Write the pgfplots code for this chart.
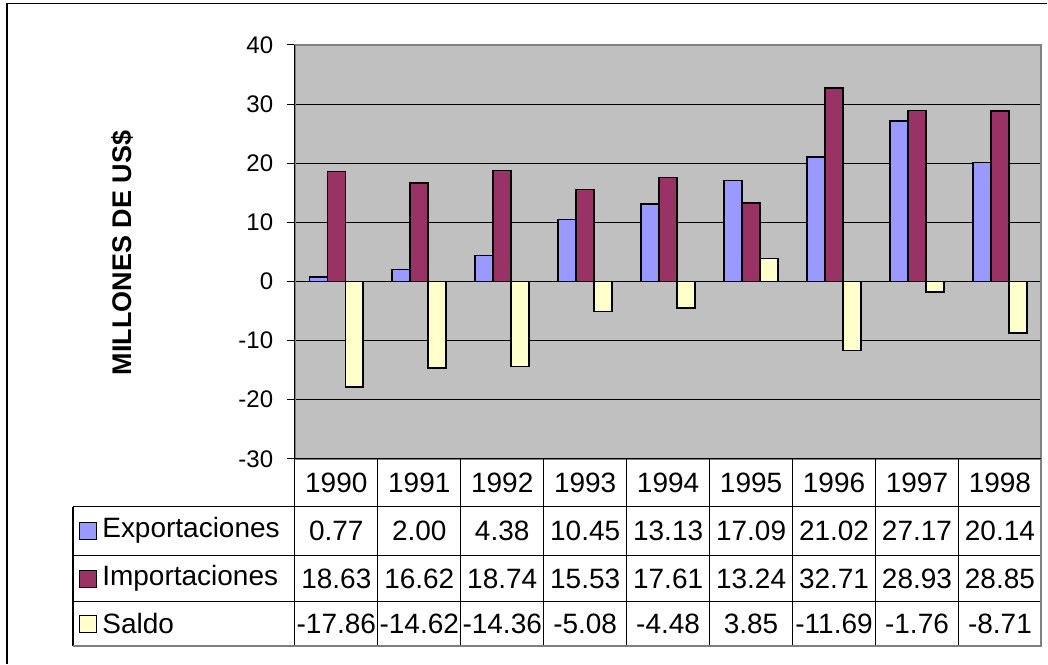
\documentclass[border=0pt]{standalone}
\usepackage{pgfplots}
\usepackage{pgfplotstable}
\pgfplotsset{compat=1.18}
\usepackage{fontspec}
\setmainfont{Liberation Sans}
\definecolor{cexp}{HTML}{9999FF}
\definecolor{cimp}{HTML}{993366}
\definecolor{csal}{HTML}{FFFFCC}
\definecolor{bg}{HTML}{C0C0C0}
\definecolor{bord}{HTML}{808080}

\pgfplotstableread{
x year exp imp sal
0 1990 0.77 18.63 -17.86
1 1991 2.00 16.62 -14.62
2 1992 4.38 18.74 -14.36
3 1993 10.45 15.53 -5.08
4 1994 13.13 17.61 -4.48
5 1995 17.09 13.24 3.85
6 1996 21.02 32.71 -11.69
7 1997 27.17 28.93 -1.76
8 1998 20.14 28.85 -8.71
}\datatable

\begin{document}
\fontsize{14}{16}\selectfont
\begin{tikzpicture}
\begin{scope}[x=0.5pt,y=-0.5pt]
\useasboundingbox (0,0) rectangle (1048,664);
\end{scope}
\begin{axis}[
 at={(147.5pt,-229.5pt)}, anchor=south west,
 scale only axis, width=373.5pt, height=207pt,
 xmin=-0.5, xmax=8.5, ymin=-30, ymax=40,
 ytick={-30,-20,-10,0,10,20,30,40},
 yticklabels={-30,-20,-10,0,10,20,30,40},
 xtick=\empty,
 ybar=0pt, bar width=9pt,
 axis background/.style={fill=bg},
 axis line style={draw=bord, line width=1pt},
 ymajorgrids, grid style={black, line width=0.5pt},
 major tick length=4pt, tick align=outside,
 ytick pos=left,
 y tick style={black, line width=0.5pt},
 yticklabel style={font=\fontsize{12}{14}\selectfont, xshift=-2pt},
 clip=false,
]
\addplot[fill=cexp, draw=black, line width=0.8pt] table[x=x,y=exp]{\datatable};
\addplot[fill=cimp, draw=black, line width=0.8pt] table[x=x,y=imp]{\datatable};
\addplot[fill=csal, draw=black, line width=0.8pt] table[x=x,y=sal]{\datatable};
\draw[black, line width=0.5pt] (rel axis cs:0,0) -- (rel axis cs:0,1);
\end{axis}
\begin{scope}[x=0.5pt,y=-0.5pt]
% outer frame
\draw[black, line width=0.6pt] (7,664) -- (7,3.5) -- (1048,3.5);
% y label
\node[rotate=90, font=\fontsize{13.5}{16}\selectfont\bfseries] at (123,253) {MILLONES DE US\$};
% table grid
\draw[black, line width=0.6pt] (295,459) -- (1042,459);
\foreach \y in {507,556,602} \draw[black, line width=0.6pt] (73,\y) -- (1042,\y);
\draw[black, line width=0.6pt] (73,507) -- (73,646);
\foreach \i in {0,...,8} \draw[black, line width=0.6pt] (295+\i*83,459) -- (295+\i*83,646);
\draw[bord, line width=1pt] (73,646) -- (1042,646) -- (1042,459);
% years and values
\foreach \i in {0,...,8}{
  \pgfplotstablegetelem{\i}{year}\of\datatable
  \node at (336.5+\i*83,483) {\pgfplotsretval};
  \pgfplotstablegetelem{\i}{exp}\of\datatable
  \node at (336.5+\i*83,531) {\pgfplotsretval};
  \pgfplotstablegetelem{\i}{imp}\of\datatable
  \node at (336.5+\i*83,579) {\pgfplotsretval};
  \pgfplotstablegetelem{\i}{sal}\of\datatable
  \node at (336.5+\i*83,624) {\pgfplotsretval};
}
% row labels with swatches
\draw[fill=cexp, draw=black, line width=0.5pt] (80,523) rectangle (97,540);
\node[anchor=west, inner sep=0pt] at (102,531) {Exportaciones};
\draw[fill=cimp, draw=black, line width=0.5pt] (80,571) rectangle (97,588);
\node[anchor=west, inner sep=0pt] at (102,579) {Importaciones};
\draw[fill=csal, draw=black, line width=0.5pt] (80,616) rectangle (97,633);
\node[anchor=west, inner sep=0pt] at (102,624) {Saldo};
\end{scope}
\end{tikzpicture}
\end{document}
